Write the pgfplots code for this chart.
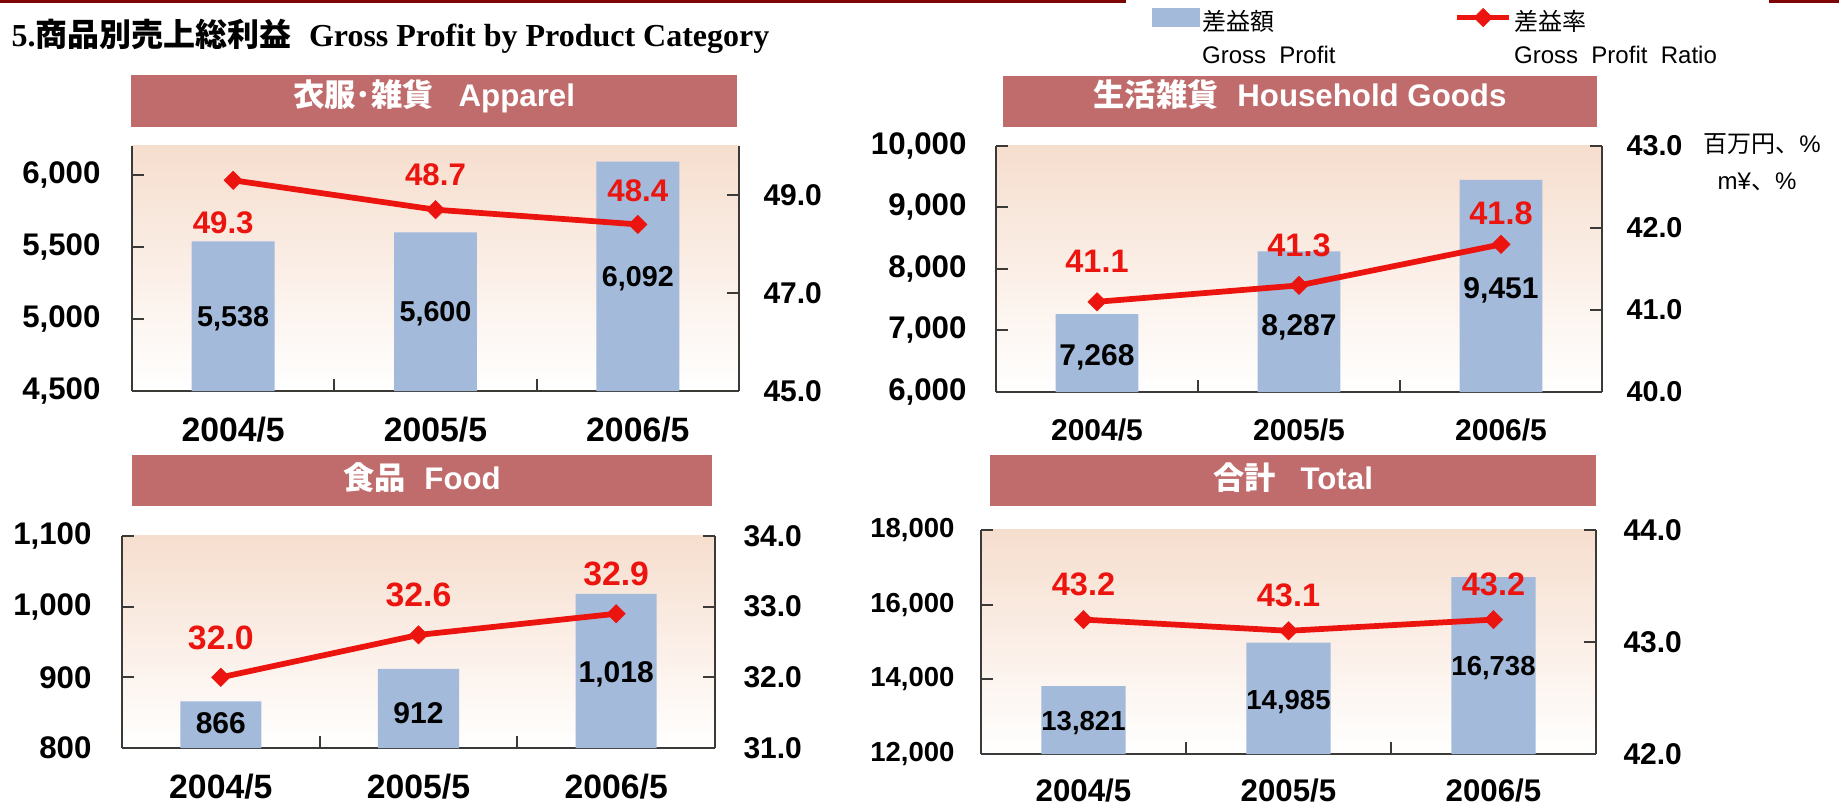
\documentclass[border=0pt]{standalone}
\usepackage{fontspec}
\setmainfont{Liberation Sans}
\newfontfamily\cjk{Noto Sans CJK JP}
\newfontfamily\serifA{Liberation Serif}
\usepackage{pgfplots}
\usepackage{pgfplotstable}
\pgfplotsset{compat=1.18}

\definecolor{barblue}{RGB}{163,186,219}
\definecolor{linered}{RGB}{236,20,14}
\definecolor{titlebar}{RGB}{192,108,108}
\definecolor{peach}{RGB}{246,222,206}
\definecolor{maroon}{RGB}{125,5,5}
\definecolor{axisgray}{RGB}{60,58,55}

\def\U{0.4pt}

% Apparel
\pgfplotstableread{
x y dy
0 5538 -77
1 5600 -81.5
2 6092 -117
}\tlbars
\pgfplotstableread{
x y dx dy
0 49.3 -10 -42
1 48.7 0 35
2 48.4 0 34
}\tlline
% Household goods
\pgfplotstableread{
x y dy
0 7268 -43
1 8287 -76
2 9451 -111
}\trbars
\pgfplotstableread{
x y dx dy
0 41.1 0 40
1 41.3 0 40
2 41.8 0 31
}\trline
% Food
\pgfplotstableread{
x y dy
0 866 -22
1 912 -44
2 1018 -80
}\blbars
\pgfplotstableread{
x y dx dy
0 32.0 0 39
1 32.6 0 40
2 32.9 0 40
}\blline
% Total
\pgfplotstableread{
x y dy
0 13821 -37
1 14985 -59
2 16738 -91
}\brbars
\pgfplotstableread{
x y dx dy
0 43.2 0 35
1 43.1 0 35
2 43.2 0 35
}\brline

\pgfplotsset{
  /pgf/number format/assume math mode=true,
  panel/.style={scale only axis, xmin=-0.5, xmax=2.5,
    axis line style={axisgray, line width=0.8pt},
    tick style={axisgray, line width=0.8pt},
    tick align=inside, major tick length=4.8pt,
    scaled y ticks=false, anchor=south west},
  barax/.style={panel, axis x line*=bottom, axis y line*=left,
    axis background/.style={top color=peach, bottom color=white},
    xtick={0.5,1.5}, xticklabels={},
    extra x ticks={0,1,2}, extra x tick labels={2004/5,2005/5,2006/5},
    extra x tick style={major tick length=0pt},
    yticklabel style={anchor=east, inner sep=0pt, text=black, /pgf/number format/1000 sep={,}},
    xticklabel style={anchor=center, inner sep=0pt, text=black}},
  lineax/.style={panel, axis x line=none, axis y line*=right, xtick=\empty,
    yticklabel style={anchor=west, inner sep=0pt, text=black,
      /pgf/number format/fixed, /pgf/number format/fixed zerofill, /pgf/number format/precision=1}},
  bars/.style={ybar, fill=barblue, draw=none, bar width=0.41,
    nodes near coords, point meta=y,
    visualization depends on={\thisrow{dy} \as \lbdy},
    every node near coord/.append style={anchor=center, yshift=\lbdy*\U, text=black,
      font=\bfseries\fontsize{#1}{#1}\selectfont, /pgf/number format/1000 sep={,}}},
  ratio/.style={linered, line width=2.3pt, mark=square*, mark size=2.6pt,
    mark options={fill=linered, draw=linered, line width=0.2pt, rotate=45},
    nodes near coords, point meta=y,
    visualization depends on={\thisrow{dx} \as \lbdx},
    visualization depends on={\thisrow{dy} \as \lbdy},
    every node near coord/.append style={anchor=center, xshift=\lbdx*\U, yshift=\lbdy*\U, text=linered,
      font=\bfseries\fontsize{#1}{#1}\selectfont,
      /pgf/number format/fixed, /pgf/number format/fixed zerofill, /pgf/number format/precision=1}},
  ratiolegend/.style={legend image code/.code={\draw[mark repeat=2, mark phase=2, ##1, line width=2pt] plot coordinates {(0pt,4.4pt) (10.4pt,4.4pt) (20.8pt,4.4pt)};}},
  barlegend/.style={legend image code/.code={\fill[barblue] (0pt,0.8pt) rectangle (18.8pt,8pt);}},
}

\begin{document}
\begin{tikzpicture}
\useasboundingbox (0,0) rectangle (1839*\U,-805*\U);
\fill[maroon] (0,0) rectangle (1126*\U,-3*\U);
\fill[maroon] (1769*\U,0) rectangle (1839*\U,-3*\U);

\node[anchor=base west, inner sep=0pt] at (11*\U,-47*\U)
  {\fontsize{12.8}{14}\selectfont{\serifA\bfseries 5.}{\cjk\bfseries 商品別売上総利益}\hspace{7pt}{\serifA\bfseries Gross Profit by Product Category}};

% title bars
\fill[titlebar] (131*\U,-75*\U) rectangle (737*\U,-127*\U);
\node[anchor=base, inner sep=0pt, text=white, font=\bfseries\fontsize{12.5}{13}\selectfont] at (434*\U,-107*\U) {{\cjk\bfseries 衣服･雑貨}\hspace{0.8em}Apparel};
\fill[titlebar] (1003*\U,-76*\U) rectangle (1597*\U,-127*\U);
\node[anchor=base, inner sep=0pt, text=white, font=\bfseries\fontsize{12.5}{13}\selectfont] at (1300*\U,-107*\U) {{\cjk\bfseries 生活雑貨}\hspace{0.6em}Household Goods};
\fill[titlebar] (132*\U,-455*\U) rectangle (712*\U,-506*\U);
\node[anchor=base, inner sep=0pt, text=white, font=\bfseries\fontsize{12.5}{13}\selectfont] at (422*\U,-489*\U) {{\cjk\bfseries 食品}\hspace{0.6em}Food};
\fill[titlebar] (990*\U,-455*\U) rectangle (1596*\U,-506*\U);
\node[anchor=base, inner sep=0pt, text=white, font=\bfseries\fontsize{12.5}{13}\selectfont] at (1293*\U,-489*\U) {{\cjk\bfseries 合計}\hspace{0.8em}Total};

% units
\node[inner sep=0pt, font=\fontsize{9.6}{11}\selectfont] at (1762*\U,-144*\U) {{\cjk 百万円、}\%};
\node[inner sep=0pt, font=\fontsize{9.6}{11}\selectfont] at (1757*\U,-182*\U) {m¥{\cjk 、}\%};

% ---------- Apparel ----------
\begin{axis}[barax, at={(132*\U,-391*\U)}, width=242.8pt, height=98pt,
  ymin=4500, ymax=6200, ytick={4500,5000,5500,6000},
  yticklabel style={font=\bfseries\fontsize{12.5}{13}\selectfont, xshift=-12.4pt},
  xticklabel style={font=\bfseries\fontsize{13.5}{14}\selectfont, yshift=-15.6pt}]
\addplot[bars=11.5] table[x=x,y=y]{\tlbars};
\end{axis}
\begin{axis}[lineax, at={(132*\U,-391*\U)}, width=242.8pt, height=98pt,
  ymin=45, ymax=50, ytick={45,47,49},
  yticklabel style={font=\bfseries\fontsize{12}{13}\selectfont, xshift=9.6pt}]
\addplot[ratio=12.5] table[x=x,y=y]{\tlline};
\end{axis}

% ---------- Household Goods ----------
\begin{axis}[barax, at={(996*\U,-392*\U)}, width=242.4pt, height=98.4pt,
  ymin=6000, ymax=10000, ytick={6000,7000,8000,9000,10000},
  yticklabel style={font=\bfseries\fontsize{12.5}{13}\selectfont, xshift=-11.6pt},
  xticklabel style={font=\bfseries\fontsize{12}{13}\selectfont, yshift=-15.2pt}]
\addplot[bars=12] table[x=x,y=y]{\trbars};
\end{axis}
\begin{axis}[lineax, at={(996*\U,-392*\U)}, width=242.4pt, height=98.4pt,
  ymin=40, ymax=43, ytick={40,41,42,43},
  yticklabel style={font=\bfseries\fontsize{11.5}{13}\selectfont, xshift=9.6pt},
  legend columns=2, legend cell align=left,
  legend style={at={(0.256,1.577)}, anchor=north west, draw=none, fill=none,
    inner sep=0pt, nodes={inner sep=1pt}, font=\fontsize{9.6}{13.2}\selectfont}]
\addlegendimage{barlegend}
\addlegendentry{\makebox[100pt][l]{\begin{tabular}{@{}l@{}}{\cjk 差益額}\\Gross\ \ Profit\end{tabular}}}
\addplot[ratio=13, ratiolegend] table[x=x,y=y]{\trline};
\addlegendentry{\begin{tabular}{@{}l@{}}{\cjk 差益率}\\Gross\ \ Profit\ \ Ratio\end{tabular}}
\end{axis}

% ---------- Food ----------
\begin{axis}[barax, at={(122*\U,-748*\U)}, width=237.2pt, height=84.8pt,
  ymin=800, ymax=1100, ytick={800,900,1000,1100},
  yticklabel style={font=\bfseries\fontsize{12.5}{13}\selectfont, xshift=-12pt},
  xticklabel style={font=\bfseries\fontsize{13.5}{14}\selectfont, yshift=-15.6pt}]
\addplot[bars=12] table[x=x,y=y]{\blbars};
\end{axis}
\begin{axis}[lineax, at={(122*\U,-748*\U)}, width=237.2pt, height=84.8pt,
  ymin=31, ymax=34, ytick={31,32,33,34},
  yticklabel style={font=\bfseries\fontsize{12}{13}\selectfont, xshift=11.2pt}]
\addplot[ratio=13.5] table[x=x,y=y]{\blline};
\end{axis}

% ---------- Total ----------
\begin{axis}[barax, at={(981*\U,-754*\U)}, width=246pt, height=89.6pt,
  ymin=12000, ymax=18000, ytick={12000,14000,16000,18000},
  yticklabel style={font=\bfseries\fontsize{11}{13}\selectfont, xshift=-10.4pt},
  xticklabel style={font=\bfseries\fontsize{12.5}{13}\selectfont, yshift=-14.4pt}]
\addplot[bars=11] table[x=x,y=y]{\brbars};
\end{axis}
\begin{axis}[lineax, at={(981*\U,-754*\U)}, width=246pt, height=89.6pt,
  ymin=42, ymax=44, ytick={42,43,44},
  yticklabel style={font=\bfseries\fontsize{12}{13}\selectfont, xshift=10.8pt}]
\addplot[ratio=13] table[x=x,y=y]{\brline};
\end{axis}
\end{tikzpicture}
\end{document}
